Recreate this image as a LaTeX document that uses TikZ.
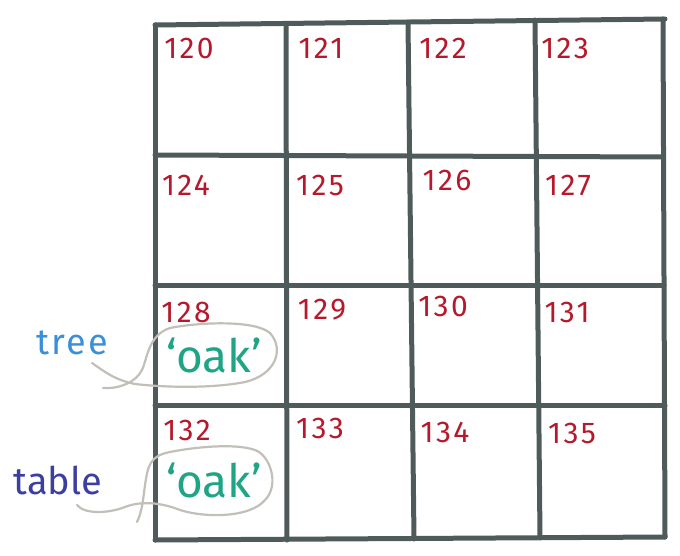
\documentclass[tikz,border=0pt]{standalone}
\usepackage{fontspec}
\setmainfont{Fira Sans}
\definecolor{gridc}{HTML}{4F5B5B}
\definecolor{numc}{HTML}{B5192B}
\definecolor{oakc}{HTML}{1FA585}
\definecolor{treec}{HTML}{3A90D8}
\definecolor{tablec}{HTML}{3D3FA0}
\definecolor{loopc}{HTML}{C2BFB8}
\begin{document}
\begin{tikzpicture}[x=1pt,y=-1pt,
  gridline/.style={draw=gridc,line width=5pt,line cap=round,line join=round},
  num/.style={text=numc,font=\fontsize{30}{30}\selectfont\addfontfeatures{LetterSpace=8},inner sep=0pt},
  oak/.style={text=oakc,font=\fontsize{46}{46}\selectfont,inner sep=0pt},
  lbl/.style={inner sep=0pt},
  loopline/.style={draw=loopc,line width=2.2pt,line cap=round}]
\useasboundingbox (0,0) rectangle (680,556);
% grid
\draw[gridline] (155,25) -- (665,19);
\draw[gridline] (155,155) -- (663,157);
\draw[gridline] (155,285) -- (664,285);
\draw[gridline] (155,405) -- (665,405);
\draw[gridline] (155,540) -- (665,537);
\draw[gridline] (155,25) -- (155,540);
\draw[gridline] (286,24) -- (287,540);
\draw[gridline] (408,22) -- (414,539);
\draw[gridline] (535,20) -- (540,538);
\draw[gridline] (663,19) -- (665,537);
% numbers
\node[num] (n120) at (189,48) {120};
\node[num] (n121) at (321,48) {121};
\node[num] (n122) at (443,48) {122};
\node[num] (n123) at (565,48) {123};
\node[num] (n124) at (186,185) {124};
\node[num] (n125) at (320,185) {125};
\node[num] (n126) at (447,180) {126};
\node[num] (n127) at (568,185) {127};
\node[num] (n128) at (186,312) {128};
\node[num] (n129) at (322,310) {129};
\node[num] (n130) at (443,306) {130};
\node[num] (n131) at (567,312) {131};
\node[num] (n132) at (187,430) {132};
\node[num] (n133) at (320,428) {133};
\node[num] (n134) at (445,432) {134};
\node[num] (n135) at (572,433) {135};
% values
\node[oak] (oak1) at (214,355) {‘oak’};
\node[oak] (oak2) at (214,480) {‘oak’};
\node[lbl,text=treec,font=\fontsize{36}{36}\selectfont\addfontfeatures{LetterSpace=6}] (tree) at (72,343) {tree};
\node[lbl,text=tablec,font=\fontsize{38}{38}\selectfont] (table) at (58,480) {table};
% loops
\draw[loopline] (92,363) .. controls (105,372) and (115,380) .. (135,384)
  .. controls (170,388) and (215,388) .. (245,382)
  .. controls (275,375) and (285,350) .. (270,333)
  .. controls (255,320) and (200,322) .. (170,328)
  .. controls (148,335) and (147,360) .. (142,370)
  .. controls (136,382) and (120,389) .. (103,388);
\draw[loopline] (77,505) .. controls (85,515) and (110,513) .. (125,507)
  .. controls (140,501) and (160,502) .. (180,510)
  .. controls (205,518) and (250,518) .. (265,500)
  .. controls (280,485) and (270,455) .. (255,450)
  .. controls (235,443) and (195,447) .. (170,452)
  .. controls (150,456) and (148,465) .. (145,485)
  .. controls (143,500) and (142,512) .. (137,522);
\end{tikzpicture}
\end{document}
